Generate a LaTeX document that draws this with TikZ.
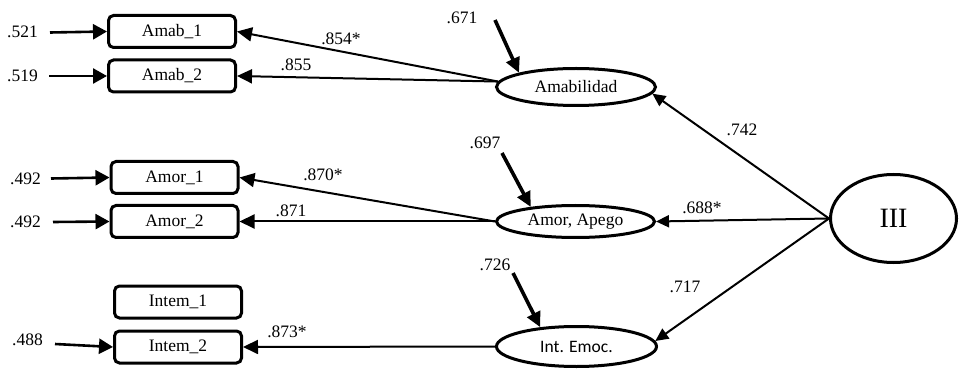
\documentclass[tikz,border=0pt]{standalone}
\usepackage{fontspec}
\setmainfont{Liberation Serif}
\newfontfamily\calibfont{Carlito}
\usetikzlibrary{arrows.meta,shapes.geometric}

\begin{document}
\begin{tikzpicture}[x=1pt,y=-1pt,
  txt/.style={font=\fontsize{17.5}{20}\selectfont},
  obs/.style={txt,draw,line width=3pt,rounded corners=5pt,
    minimum width=127pt,minimum height=32pt,inner sep=0pt},
  lat/.style={txt,draw,ellipse,line width=3pt,inner sep=0pt},
  val/.style={txt,inner sep=0pt},
  err/.style={line width=2.6pt,-{Triangle[length=14pt,width=15pt]}},
  res/.style={line width=3.6pt,-{Triangle[length=15pt,width=14pt]}},
  load/.style={line width=2pt,-{Triangle[length=15pt,width=14pt]}},
  path/.style={line width=2pt,-{Triangle[length=13pt,width=12pt]}}
]
\useasboundingbox (0,0) rectangle (960,371);

% observed indicators
\node[obs] (a1) at (172,31.5) {Amab\_1};
\node[obs] (a2) at (172,76) {Amab\_2};
\node[obs] (m1) at (174.5,177.5) {Amor\_1};
\node[obs] (m2) at (174.5,221.5) {Amor\_2};
\node[obs] (i1) at (178,302) {Intem\_1};
\node[obs] (i2) at (178,347) {Intem\_2};

% latent factors
\node[lat,minimum width=159pt,minimum height=37pt] (amab) at (576,87) {Amabilidad};
\node[lat,minimum width=158pt,minimum height=32pt] (amor) at (575.5,221.5) {Amor, Apego};
\node[lat,minimum width=160pt,minimum height=40pt,font=\calibfont\fontsize{17.5}{20}\selectfont] (inte) at (576.5,346.5) {Int. Emoc.};
\node[lat,minimum width=126pt,minimum height=88pt,font=\fontsize{28}{30}\selectfont] (g) at (893.5,218.5) {III};

% error terms of the indicators
\node[val] (ea1) at (22.5,32) {.521};
\node[val] (ea2) at (22.5,76) {.519};
\node[val] (em1) at (25.5,179) {.492};
\node[val] (em2) at (25.5,222) {.492};
\node[val] (ei2) at (27.5,340) {.488};
\coordinate (sa1) at (50,32.5);
\coordinate (sa2) at (49,76);
\coordinate (sm1) at (51,178.5);
\coordinate (sm2) at (53,222);
\coordinate (si2) at (55,344);
\draw[err] (sa1) -- (a1.west);
\draw[err] (sa2) -- (a2.west);
\draw[err] (sm1) -- (m1.west);
\draw[err] (sm2) -- (m2.west);
\draw[err] (si2) -- (i2.west);

% disturbances of the factors
\node[val] (ramab) at (462,18) {.671};
\node[val] (ramor) at (485,143) {.697};
\node[val] (rinte) at (495,265) {.726};
\coordinate (da) at (495,20);
\coordinate (dm) at (502,153);
\coordinate (di) at (513,273);
\draw[res] (da) -- (amab.166);
\draw[res] (dm) -- (amor.162);
\draw[res] (di) -- (inte.152);

% factor loadings
\draw[load] (amab.176) -- (a1.east);
\draw[load] (amab.176) -- (a2.east);
\draw[load] (amor.west) -- (m1.east);
\draw[load] (amor.west) -- (m2.east);
\draw[load] (inte.west) -- (i2.east);
\node[val] (l1) at (341,39) {.854*};
\node[val] (l2) at (296,65) {.855};
\node[val] (l3) at (323,175) {.870*};
\node[val] (l4) at (291,211) {.871};
\node[val] (l5) at (287,332) {.873*};

% second-order paths
\draw[path] (g.west) -- (amab.-5);
\draw[path] (g.west) -- (amor.east);
\draw[path] (g.west) -- (inte.4);
\node[val] (p1) at (742,130) {.742};
\node[val] (p2) at (702,208) {.688*};
\node[val] (p3) at (685,287) {.717};
\end{tikzpicture}
\end{document}
